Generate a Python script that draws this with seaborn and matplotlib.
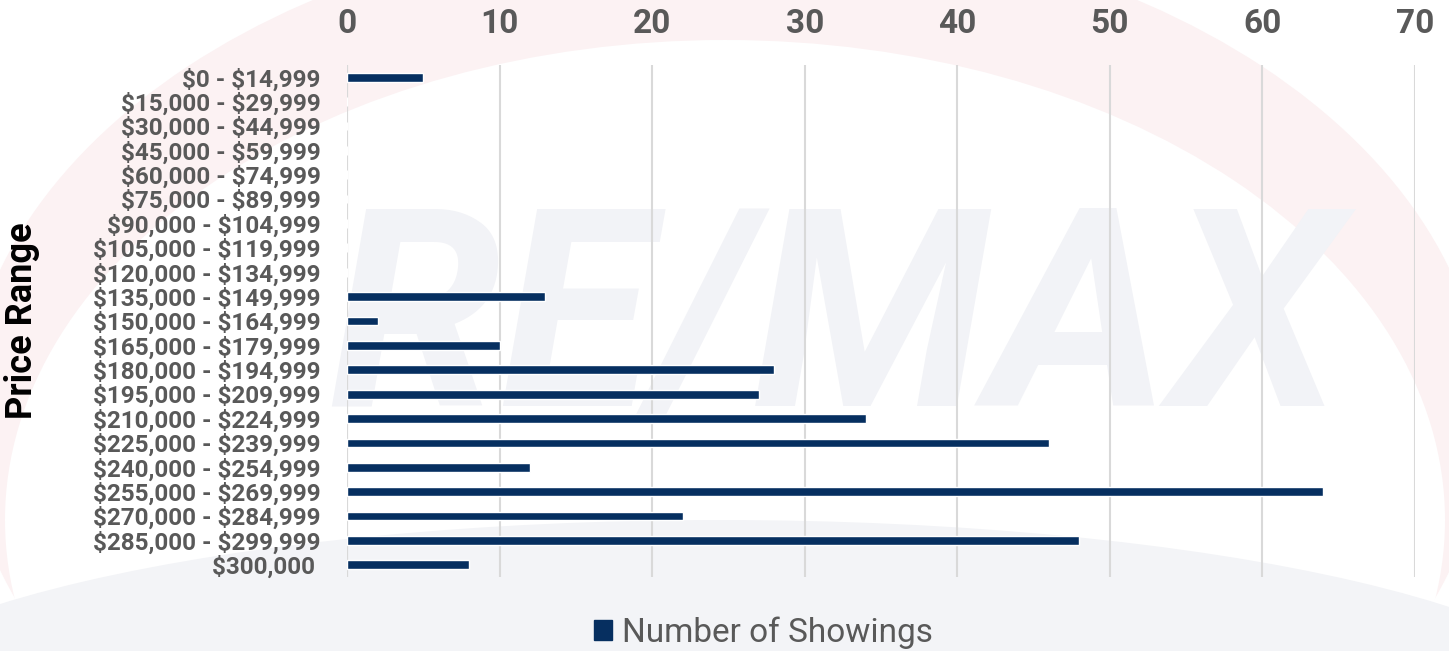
import matplotlib
matplotlib.use("Agg")
import matplotlib.pyplot as plt
import seaborn as sns
import pandas as pd
from matplotlib.patches import Ellipse, Patch

categories = ["$0 - $14,999", "$15,000 - $29,999", "$30,000 - $44,999", "$45,000 - $59,999",
              "$60,000 - $74,999", "$75,000 - $89,999", "$90,000 - $104,999", "$105,000 - $119,999",
              "$120,000 - $134,999", "$135,000 - $149,999", "$150,000 - $164,999", "$165,000 - $179,999",
              "$180,000 - $194,999", "$195,000 - $209,999", "$210,000 - $224,999", "$225,000 - $239,999",
              "$240,000 - $254,999", "$255,000 - $269,999", "$270,000 - $284,999", "$285,000 - $299,999",
              "$300,000 "]
showings = [5, 0, 0, 0, 0, 0, 0, 0, 0, 13, 2, 10, 28, 27, 34, 46, 12, 64, 22, 48, 8]
x_ticks = [0, 10, 20, 30, 40, 50, 60, 70]
series_name = "Number of Showings"

sns.set_theme(style="white")
plt.rcParams['font.family'] = ['Roboto', 'DejaVu Sans']
plt.rcParams['text.parse_math'] = False

df = pd.DataFrame({"Price Range": categories, series_name: showings})

fig = plt.figure(figsize=(14.49, 6.51), dpi=100)
fig.patch.set_facecolor("white")

# faint background watermark
bg = fig.add_axes([0, 0, 1, 1], zorder=-10)
bg.set_xlim(0, 1449); bg.set_ylim(651, 0); bg.axis("off")
bg.add_patch(Ellipse((725, 420), 1520, 1000, color="#fcf2f3", lw=0))
bg.add_patch(Ellipse((725, 520), 1440, 960, color="#ffffff", lw=0))
bg.add_patch(Ellipse((720, 730), 1800, 420, color="#f3f4f7", lw=0))
bg.text(835, 330, "RE/MAX", fontsize=200, fontweight="bold", style="italic",
        color="#f2f3f7", ha="center", va="center", family="Roboto")

ax = fig.add_axes([347/1449, 1-577/651, (1415-347)/1449, (577-65)/651])
ax.patch.set_alpha(0)
sns.barplot(data=df, y="Price Range", x=series_name, orient="h", color="#062f60",
            width=0.36, saturation=1, ax=ax)
ax.set_xlim(0, 70)
ax.set_ylim(20.5, -0.5)
ax.set_xticks(x_ticks)
ax.xaxis.tick_top()
ax.xaxis.set_label_position("top")
ax.set_xlabel("")
ax.tick_params(axis="x", length=0, pad=18, labelsize=24, labelcolor="#595959")
for t in ax.get_xticklabels():
    t.set_fontweight("bold")
ax.tick_params(axis="y", length=0, pad=19, labelsize=17.5, labelcolor="#595959")
for t in ax.get_yticklabels():
    t.set_fontweight("bold")
ax.set_ylabel("Price Range", fontsize=26, fontweight="bold", color="black")
ax.yaxis.set_label_coords(-0.2875, 0.5)
ax.grid(axis="x", color="#d9d9d9", lw=1.5)
ax.set_axisbelow(True)
for s in ax.spines.values():
    s.set_visible(False)
ax.axvline(0, color="#d9d9d9", lw=1.5, zorder=0)

fig.legend(handles=[Patch(color="#062f60", label=series_name)], loc="center",
           bbox_to_anchor=(0.527, 0.028), frameon=False, fontsize=24,
           handlelength=0.55, handleheight=0.55, handletextpad=0.3,
           labelcolor="#595959")

fig.savefig("out.png", dpi=100)
